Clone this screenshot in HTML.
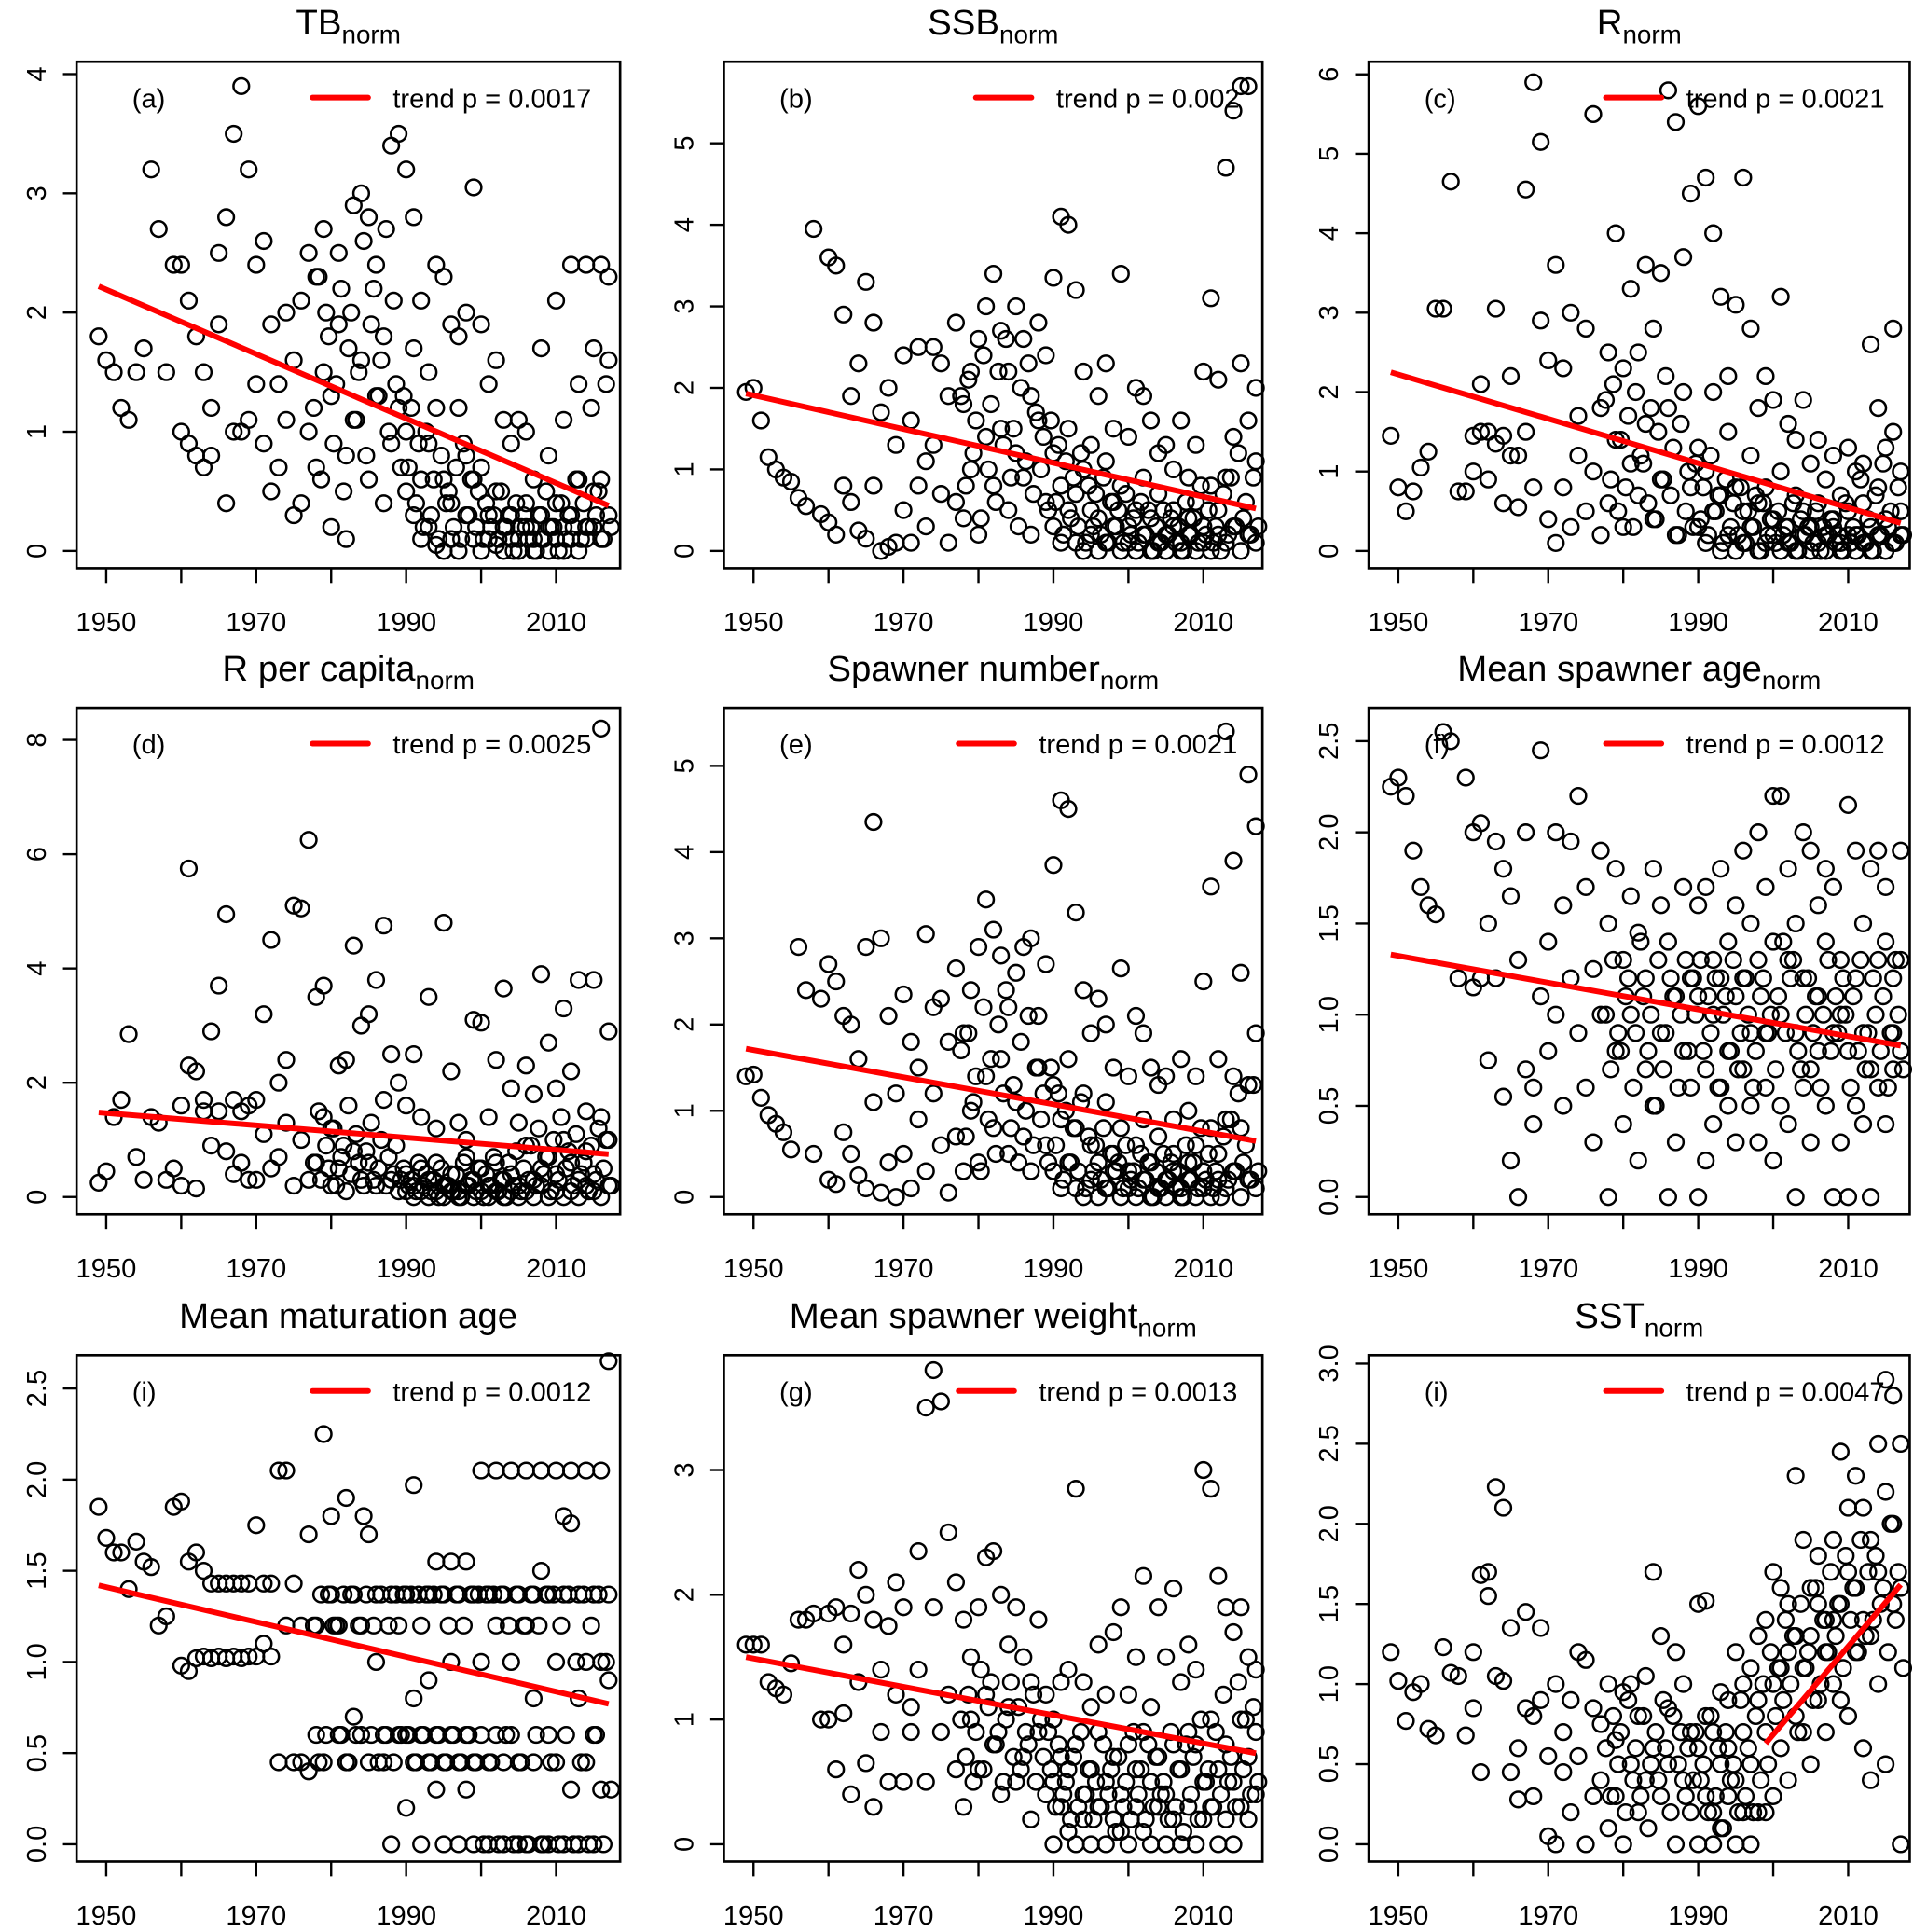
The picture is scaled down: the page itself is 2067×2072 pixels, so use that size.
<!DOCTYPE html>
<html><head><meta charset="utf-8"><style>
html,body{margin:0;padding:0;background:#fff}
svg{display:block}
text{font-family:"Liberation Sans",sans-serif;fill:#000}
</style></head><body>
<svg id="chart" xmlns="http://www.w3.org/2000/svg" width="2067" height="2072" viewBox="0 0 1560 1564" preserveAspectRatio="none"></svg>
<script>
const years=[1949,1950,1951,1952,1953,1954,1955,1956,1957,1958,1959,
1960,1960,1961,1961,1962,1962,1963,1963,1964,1964,1965,1965,1966,1966,1967,1967,1968,1968,1969,1969,
1970,1970,1971,1971,1972,1972,1973,1973,1974,1974,1975,1975,1976,1976,1977,1977,1978,1978,1979,1979,
1980,1980,1981,1981,1982,1982,1983,1983,1984,1984,1985,1985,1986,1986,1987,1987,1988,1988,1989,1989,
1990,1990,1990,1991,1991,1991,1992,1992,1992,1993,1993,1993,1994,1994,1994,1995,1995,1995,1996,1996,1996,1997,1997,1997,1998,1998,1998,1999,1999,1999,
2000,2000,2000,2001,2001,2001,2002,2002,2002,2003,2003,2003,2004,2004,2004,2005,2005,2005,2006,2006,2006,2007,2007,2007,2008,2008,2008,2009,2009,2009,
2010,2010,2010,2011,2011,2011,2012,2012,2012,2013,2013,2013,2014,2014,2014,2015,2015,2015,2016,2016,2016,2017,2017,2017];

const yearsB=[1978,1978,1979,1979,1980,1980,1981,1981,1982,1982,1983,1983,1984,1984,1985,1985,1986,1986,1987,1987,1988,1988,1989,1989,
1990,1990,1991,1991,1992,1992,1993,1993,1994,1994,1995,1995,1996,1996,1997,1997,1998,1998,1999,1999,
2000,2000,2001,2001,2002,2002,2003,2003,2004,2004,2005,2005,2006,2006,2007,2007,2008,2008,2009,2009,
2010,2010,2011,2011,2012,2012,2013,2013,2014,2014,2015,2015,2016,2016,2017,2017];

const valsTB=[1.8,1.6,1.5,1.2,1.1,1.5,1.7,3.2,2.7,1.5,2.4,
2.4,1.0,0.9,2.1,0.8,1.8,0.7,1.5,1.2,0.8,2.5,1.9,0.4,2.8,3.5,1.0,3.9,1.0,3.2,1.1,
2.4,1.4,2.6,0.9,1.9,0.5,1.4,0.7,2.0,1.1,0.3,1.6,2.1,0.4,2.5,1.0,2.3,0.7,2.7,1.5,1.3,0.2,2.5,1.9,0.8,0.1,2.9,1.1,3.0,1.6,2.8,0.6,1.3,2.4,0.4,1.8,3.4,0.9,3.5,1.2,
3.2,1.0,0.5,2.8,1.7,0.3,2.1,0.6,0.1,1.5,0.9,0.2,2.4,1.2,0.05,2.3,0.6,0.0,1.9,0.4,0.1,1.8,1.2,0.0,2.0,0.8,0.3,3.05,0.6,0.1,1.9,0.7,0.0,1.4,0.3,0.1,1.6,0.5,0.05,1.1,0.2,0.0,0.9,0.3,0.1,1.1,0.1,0.0,1.0,0.4,0.2,0.6,0.1,0.0,1.7,0.3,0.1,0.8,0.2,0.0,2.1,0.4,0.1,1.1,0.2,0.0,2.4,0.3,0.1,1.4,0.6,0.0,2.4,0.2,0.1,1.7,0.5,0.2,2.4,0.6,0.1,1.6,2.3,0.3];
const valsTB2=[1.2,2.3,0.6,2.0,1.8,0.9,1.4,2.2,0.5,1.7,2.0,1.1,1.5,2.6,0.8,1.9,2.2,1.3,1.6,2.7,1.0,2.1,1.4,0.7,
1.3,0.7,1.2,0.4,0.9,0.2,1.0,0.3,0.6,0.1,0.8,0.4,0.5,0.2,0.7,0.1,0.9,0.3,0.6,0.2,0.5,0.1,0.4,0.2,0.3,0.1,0.5,0.2,0.3,0.0,0.4,0.2,0.3,0.1,0.2,0.0,0.3,0.1,0.5,0.2,0.2,0.0,0.4,0.1,0.3,0.2,0.6,0.1,0.4,0.2,1.2,0.3,0.5,0.1,1.4,0.2];

const valsSSB=[1.95,2.0,1.6,1.15,1.0,0.9,0.85,0.65,0.55,3.95,0.45,
0.35,3.6,0.2,3.5,0.8,2.9,0.6,1.9,0.25,2.3,0.15,3.3,0.8,2.8,0.0,1.7,0.05,2.0,0.1,1.3,
2.4,0.5,1.6,0.1,2.5,0.8,1.1,0.3,2.5,1.3,0.7,2.3,1.9,0.1,2.8,0.6,1.8,0.4,2.2,1.0,2.6,0.2,3.0,1.4,3.4,0.8,2.7,1.5,2.2,0.5,3.0,1.2,2.6,0.9,1.9,0.2,2.8,1.6,2.4,0.6,
3.35,1.2,0.3,4.1,0.8,0.1,4.0,1.5,0.5,3.2,0.7,0.1,2.2,1.0,0.0,1.3,0.5,0.2,1.9,0.4,0.0,2.3,1.1,0.1,1.5,0.6,0.3,3.4,0.8,0.0,1.4,0.3,0.1,2.0,0.5,0.0,1.9,0.9,0.2,1.6,0.4,0.0,1.2,0.7,0.1,1.3,0.2,0.0,1.0,0.5,0.3,1.6,0.1,0.0,0.9,0.4,0.2,1.3,0.6,0.0,2.2,0.3,0.1,3.1,0.8,0.0,2.1,0.5,0.2,4.7,0.9,0.1,5.4,1.4,0.3,5.7,2.3,0.0,5.7,1.6,0.2,2.0,1.1,0.1];
const valsSSB2=[1.9,0.8,2.1,1.2,1.6,0.4,2.4,1.0,1.8,0.6,2.2,1.3,2.6,0.9,1.5,0.3,2.0,1.1,2.3,0.7,1.7,1.0,1.4,0.5,
1.6,0.6,1.3,0.2,1.1,0.4,0.9,0.3,1.2,0.1,0.8,0.3,0.7,0.2,0.9,0.1,0.6,0.3,0.5,0.1,0.7,0.2,0.4,0.1,0.6,0.2,0.5,0.0,0.3,0.1,0.5,0.2,0.4,0.1,0.3,0.0,0.6,0.2,0.4,0.1,0.8,0.2,0.5,0.1,0.3,0.0,0.7,0.2,0.9,0.3,1.2,0.4,0.6,0.2,0.9,0.3];

const valsR=[1.45,0.8,0.5,0.75,1.05,1.25,3.05,3.05,4.65,0.75,0.75,
1.45,1.0,1.5,2.1,1.5,0.9,3.05,1.35,1.45,0.6,1.2,2.2,0.55,1.2,4.55,1.5,5.9,0.8,5.15,2.9,
2.4,0.4,3.6,0.1,2.3,0.8,3.0,0.3,1.7,1.2,2.8,0.5,5.5,1.0,1.8,0.2,2.5,0.6,4.0,1.4,2.3,0.3,3.3,1.1,2.5,0.7,3.6,1.6,2.8,0.4,3.5,0.9,5.8,1.8,5.4,0.2,3.7,2.0,4.5,0.8,
5.6,1.3,0.3,4.7,1.0,0.1,4.0,2.0,0.5,3.2,0.7,0.0,2.2,1.5,0.2,3.1,0.8,0.0,4.7,0.5,0.1,2.8,1.2,0.3,1.8,0.6,0.0,2.2,0.8,0.1,1.9,0.4,0.2,3.2,1.0,0.0,1.6,0.3,0.1,1.4,0.7,0.0,1.9,0.5,0.2,1.1,0.3,0.0,1.4,0.6,0.1,0.9,0.2,0.0,1.2,0.4,0.3,0.7,0.1,0.0,1.3,0.5,0.2,1.0,0.2,0.0,1.1,0.6,0.1,2.6,0.3,0.0,1.8,0.8,0.2,1.3,0.4,0.0,2.8,1.5,0.1,1.0,0.5,0.2];
const valsR2=[1.9,0.9,2.1,0.5,1.4,0.8,1.7,0.3,2.0,1.2,1.1,0.6,1.8,0.4,1.5,0.9,2.2,0.7,1.3,0.2,1.6,0.5,1.0,0.3,
1.1,0.4,0.8,0.2,1.2,0.5,0.7,0.1,0.9,0.3,0.6,0.2,0.8,0.1,0.5,0.3,0.7,0.0,0.6,0.2,0.4,0.1,0.5,0.2,0.3,0.1,0.6,0.0,0.4,0.2,0.3,0.1,0.5,0.0,0.3,0.2,0.4,0.1,0.2,0.0,0.6,0.1,0.3,0.2,0.9,0.1,0.4,0.0,0.7,0.2,1.1,0.3,0.5,0.1,0.8,0.2];

const valsRpc=[0.25,0.45,1.4,1.7,2.85,0.7,0.3,1.4,1.3,0.3,0.5,
1.6,0.2,2.3,5.75,0.15,2.2,1.5,1.7,0.9,2.9,1.5,3.7,0.8,4.95,0.4,1.7,0.6,1.5,0.3,1.6,
1.7,0.3,3.2,1.1,4.5,0.5,2.0,0.7,2.4,1.3,5.1,0.2,5.05,1.0,6.25,0.3,3.5,0.6,3.7,1.4,1.2,0.2,2.3,0.5,2.4,0.1,4.4,0.8,3.0,0.3,3.2,0.6,3.8,0.2,4.75,1.7,2.5,0.3,2.0,0.1,
1.6,0.4,0.1,2.5,0.2,0.0,1.4,0.5,0.1,3.5,0.3,0.0,1.2,0.6,0.1,4.8,0.2,0.0,2.2,0.4,0.1,1.3,0.1,0.0,1.0,0.7,0.2,3.1,0.3,0.0,3.05,0.5,0.1,1.4,0.2,0.0,2.4,0.6,0.1,3.65,0.3,0.0,1.9,0.4,0.1,1.3,0.2,0.0,2.3,0.9,0.1,1.8,0.3,0.0,3.9,0.5,0.2,2.7,0.7,0.0,1.9,0.4,0.1,3.3,1.0,0.0,2.2,0.6,0.1,3.8,0.3,0.0,1.5,0.8,0.2,3.8,0.4,0.1,8.2,1.4,0.0,2.9,1.0,0.2];
const valsRpc2=[0.6,1.5,0.3,0.9,0.5,1.2,0.2,0.7,0.9,1.6,0.4,1.1,0.6,0.2,0.8,1.3,0.3,0.5,1.0,0.2,0.7,0.4,0.9,0.3,
0.5,0.2,0.3,0.1,0.6,0.2,0.4,0.1,0.3,0.0,0.5,0.2,0.2,0.1,0.4,0.0,0.6,0.2,0.3,0.1,0.5,0.0,0.4,0.2,0.7,0.1,0.3,0.0,0.6,0.2,0.8,0.1,0.5,0.3,0.9,0.2,1.2,0.4,0.7,0.1,1.0,0.3,1.4,0.5,0.8,0.2,1.1,0.4,0.6,0.1,0.9,0.3,1.2,0.5,1.0,0.2];

const valsSpN=[1.4,1.42,1.15,0.95,0.85,0.75,0.55,2.9,2.4,0.5,2.3,
0.2,2.7,0.15,2.5,0.75,2.1,0.5,2.0,0.25,1.6,0.1,2.9,1.1,4.35,0.05,3.0,0.4,2.1,0.0,1.2,
2.35,0.5,1.8,0.1,1.5,0.9,3.05,0.3,2.2,1.2,0.6,2.3,1.8,0.05,2.65,0.7,1.9,0.3,2.4,1.0,2.9,0.4,3.45,1.4,3.1,0.8,2.8,1.6,2.2,0.5,2.6,1.1,2.9,0.7,3.0,0.3,2.1,1.5,2.7,0.6,
3.85,1.3,0.3,4.6,0.9,0.1,4.5,1.6,0.4,3.3,0.8,0.1,2.4,1.2,0.0,1.9,0.6,0.2,2.3,0.4,0.0,2.0,1.1,0.1,1.5,0.5,0.3,2.65,0.8,0.0,1.4,0.3,0.1,2.1,0.6,0.0,1.9,0.9,0.2,1.5,0.4,0.0,1.3,0.7,0.1,1.4,0.2,0.0,0.9,0.5,0.3,1.6,0.1,0.0,1.0,0.4,0.2,1.4,0.6,0.0,2.5,0.3,0.1,3.6,0.8,0.0,1.6,0.5,0.2,5.4,0.9,0.1,3.9,1.4,0.3,2.6,0.8,0.0,4.9,1.3,0.2,4.3,1.9,0.1];
const valsSpN2=[1.7,0.7,1.9,1.1,1.4,0.3,2.2,0.9,1.6,0.5,2.0,1.2,2.4,0.8,1.3,0.4,1.8,1.0,2.1,0.6,1.5,0.9,1.2,0.4,
1.5,0.6,1.2,0.2,1.0,0.4,0.8,0.3,1.1,0.1,0.7,0.3,0.6,0.2,0.8,0.1,0.5,0.3,0.4,0.1,0.6,0.2,0.3,0.1,0.5,0.2,0.4,0.0,0.3,0.1,0.5,0.2,0.4,0.1,0.3,0.0,0.6,0.2,0.4,0.1,0.8,0.2,0.5,0.1,0.3,0.0,0.7,0.2,0.9,0.3,1.2,0.4,0.6,0.2,1.3,0.3];

const valsAge=[2.25,2.3,2.2,1.9,1.7,1.6,1.55,2.55,2.5,1.2,2.3,
1.15,2.0,1.2,2.05,1.5,0.75,1.2,1.95,0.55,1.8,0.2,1.65,0.0,1.3,0.7,2.0,0.4,0.6,2.45,1.1,
1.4,0.8,2.0,1.0,1.6,0.5,1.95,1.2,2.2,0.9,1.7,0.6,1.25,0.3,1.9,1.0,1.5,0.0,1.8,0.8,1.3,0.4,1.65,1.0,1.45,0.2,1.2,0.7,1.8,0.5,1.6,0.9,1.4,0.0,1.1,0.3,1.7,0.8,1.2,0.6,
0.0,1.1,1.6,0.2,0.7,1.7,0.4,1.0,1.3,0.6,1.8,1.2,0.8,1.4,0.5,1.1,0.3,1.6,1.2,0.7,1.9,0.9,0.5,1.5,2.0,1.3,0.3,1.7,0.9,0.6,2.2,1.4,0.2,2.2,1.0,0.5,1.8,1.3,0.4,1.5,0.0,0.9,2.0,1.2,0.6,1.9,0.7,0.3,1.6,1.1,0.8,1.4,0.5,1.8,1.7,0.9,0.0,1.3,0.3,1.0,2.15,0.8,0.0,1.9,1.2,0.5,1.5,0.4,0.9,1.8,0.7,0.0,1.9,1.3,0.6,1.4,1.7,0.4,1.2,0.9,0.7,1.9,1.3,0.8];
const valsAge2=[1.0,0.7,1.3,0.9,0.8,1.1,1.2,0.6,0.9,1.4,1.1,0.8,1.0,0.5,1.3,0.7,0.9,1.2,1.1,0.6,1.0,1.3,0.8,1.2,
1.0,1.3,0.8,1.1,0.9,1.2,0.6,1.0,1.1,0.8,1.3,0.7,0.9,1.2,1.0,0.6,0.8,1.1,1.2,0.9,1.0,0.7,1.1,1.4,0.9,1.2,1.3,0.8,0.7,1.0,1.2,0.9,1.1,0.6,1.0,1.3,0.8,1.1,0.9,1.2,1.0,0.6,1.1,0.8,1.3,0.7,0.9,1.2,1.0,0.8,1.1,0.6,0.9,1.3,1.0,0.7];

const valsMat=[1.85,1.68,1.6,1.6,1.4,1.66,1.55,1.52,1.2,1.25,1.85,
0.98,1.88,0.95,1.55,1.02,1.6,1.03,1.5,1.43,1.02,1.43,1.03,1.43,1.02,1.43,1.03,1.43,1.02,1.43,1.03,
1.75,1.03,1.43,1.1,1.43,1.03,2.05,0.45,2.05,1.2,0.45,1.43,1.2,0.45,0.4,1.7,1.2,0.6,2.25,0.45,1.8,1.37,0.6,1.2,1.9,0.45,0.7,1.37,1.2,0.6,1.7,0.45,1.37,1.0,0.6,0.45,1.37,0.0,0.6,1.2,
1.37,0.6,0.2,1.97,0.45,0.8,1.2,0.6,0.0,1.37,0.45,0.9,1.55,0.6,0.3,1.37,0.45,0.0,1.55,0.6,1.0,1.37,0.0,0.45,1.55,0.3,0.6,1.37,0.45,0.0,2.05,0.6,1.0,1.37,0.45,0.0,2.05,1.2,0.6,1.37,0.45,0.0,2.05,1.0,0.6,1.37,0.0,0.45,2.05,1.2,0.0,1.37,0.45,0.8,2.05,1.5,0.0,1.37,0.6,0.0,2.05,1.0,0.45,1.8,0.0,1.37,2.05,1.76,0.3,1.37,0.8,0.0,2.05,1.0,0.45,1.37,0.6,0.0,2.05,1.0,0.3,2.65,1.37,0.9];
const valsMat2=[1.2,0.45,1.37,0.6,1.37,1.2,1.2,0.6,1.37,0.45,1.37,0.6,1.2,1.8,1.37,0.6,1.2,0.45,1.37,0.6,1.2,0.45,1.37,0.6,
1.37,0.6,1.37,0.45,1.37,0.6,1.37,0.45,1.37,0.6,1.37,0.45,1.2,0.6,1.37,0.45,1.2,0.6,1.37,0.45,1.37,0.0,1.37,0.45,1.37,0.0,1.37,0.6,1.2,0.0,1.37,0.45,1.2,0.0,1.37,0.6,1.2,0.0,1.37,0.45,1.37,0.0,1.2,0.6,1.37,0.0,1.0,0.45,1.37,0.0,1.2,0.6,1.37,0.0,1.0,0.3];

const valsWt=[1.6,1.6,1.6,1.3,1.25,1.2,1.45,1.8,1.8,1.85,1.0,
1.85,1.0,1.9,0.6,1.6,1.05,1.85,0.4,2.2,1.3,0.65,2.0,0.3,1.8,1.4,0.9,1.75,0.5,2.1,1.2,
1.9,0.5,1.1,0.9,2.35,1.4,3.5,0.5,3.8,1.9,3.55,0.9,2.5,1.2,2.1,0.6,1.8,0.3,1.5,1.0,1.9,0.6,2.3,1.2,2.35,0.8,2.0,0.4,1.6,1.1,1.9,0.5,1.5,0.7,1.3,0.2,1.8,0.9,1.2,0.4,
1.0,0.5,0.0,1.3,0.7,0.3,1.4,0.6,0.1,2.85,0.8,0.0,1.3,0.4,0.2,1.1,0.6,0.0,1.6,0.9,0.3,1.2,0.5,0.0,1.7,0.7,0.2,1.9,0.4,0.1,1.2,0.8,0.0,1.5,0.3,0.6,2.15,0.9,0.1,1.1,0.5,0.0,1.9,0.7,0.3,1.5,0.4,0.0,2.05,0.8,0.2,1.3,0.6,0.0,1.6,0.3,0.9,1.4,0.8,0.0,3.0,0.5,0.2,2.85,1.0,0.3,2.15,0.6,0.0,1.9,0.8,0.2,1.7,0.5,0.0,1.9,1.0,0.3,1.5,0.7,0.2,1.4,0.9,0.4];
const valsWt2=[1.0,0.7,1.2,0.5,0.9,1.4,0.6,1.1,1.3,0.8,0.9,0.5,1.0,1.3,0.7,1.1,0.6,0.9,0.8,1.2,0.5,1.0,0.7,0.9,
0.6,0.3,0.8,0.4,0.5,0.2,0.7,0.3,0.9,0.4,0.6,0.2,0.5,0.3,0.8,0.4,0.6,0.1,0.7,0.3,0.5,0.2,0.9,0.4,0.6,0.2,0.8,0.3,0.7,0.4,0.5,0.2,0.9,0.3,0.6,0.1,0.8,0.4,0.7,0.2,1.0,0.5,0.6,0.3,0.9,0.4,1.2,0.5,0.7,0.3,1.3,0.6,1.0,0.4,1.1,0.5];

const valsSST=[1.2,1.02,0.77,0.95,1.0,0.72,0.68,1.23,1.07,1.05,0.68,
1.2,0.85,1.68,0.45,1.55,1.7,2.23,1.05,2.1,1.02,0.45,1.35,0.28,0.6,0.85,1.45,0.3,0.8,0.9,1.35,
0.55,0.05,1.0,0.0,0.7,0.45,0.9,0.2,1.2,0.55,1.15,0.0,0.85,0.3,0.75,0.4,1.0,0.1,0.65,0.3,0.95,0.0,1.0,0.5,0.8,0.2,1.05,0.4,1.7,0.6,1.3,0.3,0.85,0.5,1.2,0.0,1.0,0.4,0.7,0.2,
1.5,0.6,0.0,1.52,0.8,0.3,0.7,0.2,0.0,0.95,0.5,0.1,0.9,0.6,0.3,1.2,0.4,0.0,1.0,0.7,0.2,1.1,0.5,0.0,1.3,0.9,0.2,1.4,0.7,0.2,1.7,1.0,0.3,1.6,1.1,0.6,1.5,1.2,0.4,2.3,1.3,0.8,1.9,1.1,0.7,1.6,1.3,0.5,1.8,1.5,0.9,1.4,1.2,0.7,1.9,1.4,1.0,2.45,1.5,0.9,2.1,1.7,0.8,2.3,1.6,1.2,2.1,1.4,0.6,1.9,1.3,0.4,2.5,1.7,1.0,2.9,2.2,0.5,2.8,2.0,1.5,2.5,1.6,0.0];
const valsSST2=[0.6,0.3,0.8,0.5,0.7,0.2,0.9,0.4,0.6,0.3,0.8,0.1,0.5,0.7,0.4,0.9,0.6,0.2,0.8,0.5,0.7,0.3,0.6,0.4,
0.7,0.4,0.5,0.2,0.8,0.3,0.6,0.1,0.7,0.4,0.5,0.2,0.9,0.3,0.6,0.2,0.8,0.4,1.0,0.5,1.2,0.8,1.1,0.9,1.4,1.0,1.3,0.7,1.5,1.1,1.2,0.9,1.6,1.0,1.4,1.2,1.7,1.3,1.5,1.1,1.8,1.4,1.6,1.2,1.9,1.3,1.7,1.4,1.8,1.5,1.6,1.2,2.0,1.4,1.7,1.1];

const trendYears=[[1949,2017],[1949,2017],[1949,2017],[1949,2017],[1949,2017],[1949,2017],[1949,2017],[1949,2017],[1999,2017]];
const trendVals=[[2.22,0.38],[1.93,0.52],[2.25,0.35],[1.48,0.75],[1.72,0.65],[1.33,0.83],[1.42,0.77],[1.5,0.73],[0.63,1.62]];
const xTicks=[1950,1960,1970,1980,1990,2000,2010];
const xLabels=[1950,1970,1990,2010];

const NS="http://www.w3.org/2000/svg";
const svg=document.getElementById('chart');
function mk(tag,attrs,parent){const e=document.createElementNS(NS,tag);for(const k in attrs)e.setAttribute(k,attrs[k]);(parent||svg).appendChild(e);return e;}

const panels=[
 {id:'tb',title:'TB',sub:'norm',lab:'(a)',p:'trend p = 0.0017',col:0,row:0,vals:valsTB,vals2:valsTB2,y0:446,ppu:96.5,ticks:[0,1,2,3,4],dec:0,lx:253},
 {id:'ssb',title:'SSB',sub:'norm',lab:'(b)',p:'trend p = 0.002',col:1,row:0,vals:valsSSB,vals2:valsSSB2,y0:446,ppu:66,ticks:[0,1,2,3,4,5],dec:0,lx:790},
 {id:'r',title:'R',sub:'norm',lab:'(c)',p:'trend p = 0.0021',col:2,row:0,vals:valsR,vals2:valsR2,y0:446,ppu:64.3,ticks:[0,1,2,3,4,5,6],dec:0,lx:1300},
 {id:'rpc',title:'R per capita',sub:'norm',lab:'(d)',p:'trend p = 0.0025',col:0,row:1,vals:valsRpc,vals2:valsRpc2,y0:969,ppu:46.25,ticks:[0,2,4,6,8],dec:0,lx:253},
 {id:'spn',title:'Spawner number',sub:'norm',lab:'(e)',p:'trend p = 0.0021',col:1,row:1,vals:valsSpN,vals2:valsSpN2,y0:969,ppu:69.8,ticks:[0,1,2,3,4,5],dec:0,lx:776},
 {id:'age',title:'Mean spawner age',sub:'norm',lab:'(f)',p:'trend p = 0.0012',col:2,row:1,vals:valsAge,vals2:valsAge2,y0:969,ppu:147.6,ticks:[0,0.5,1,1.5,2,2.5],dec:1,lx:1300},
 {id:'mat',title:'Mean maturation age',sub:'',lab:'(i)',p:'trend p = 0.0012',col:0,row:2,vals:valsMat,vals2:valsMat2,y0:1493,ppu:147.6,ticks:[0,0.5,1,1.5,2,2.5],dec:1,lx:253},
 {id:'wt',title:'Mean spawner weight',sub:'norm',lab:'(g)',p:'trend p = 0.0013',col:1,row:2,vals:valsWt,vals2:valsWt2,y0:1493,ppu:101,ticks:[0,1,2,3],dec:0,lx:776},
 {id:'sst',title:'SST',sub:'norm',lab:'(i)',p:'trend p = 0.0047',col:2,row:2,vals:valsSST,vals2:valsSST2,y0:1493,ppu:129.7,ticks:[0,0.5,1,1.5,2,2.5,3],dec:1,lx:1300}
];
const colX=[62,586,1108], colW=[440,436,438];
const rowY=[50,573,1097], boxH=410;

panels.forEach((pn,pi)=>{
  const bx=colX[pn.col], bw=colW[pn.col], by=rowY[pn.row];
  const g=mk('g',{});
  
  
  const xs=y=>bx+24+(y-1950)*6.07;
  const ys=v=>pn.y0-v*pn.ppu;
  const t=mk('text',{x:bx+bw/2,y:by-22,'text-anchor':'middle','font-size':29},g);
  
  
  t.textContent=pn.title;
  if(pn.sub){const ts=mk('tspan',{'font-size':21,dy:7},t);ts.textContent=pn.sub;}
  const pg=mk('g',{fill:'none',stroke:'#000','stroke-width':1.9},g);
  
  
  const n=Math.min(years.length,pn.vals.length);
  for(let i=0;i<n;i++){
    const c=mk('circle',{cx:xs(years[i]).toFixed(1),cy:ys(pn.vals[i]).toFixed(1),r:6.3},pg);
    
    
  }
  const n2=Math.min(yearsB.length,pn.vals2.length);
  for(let i=0;i<n2;i++){
    const c=mk('circle',{cx:(xs(yearsB[i])+(i%2?2:-2)).toFixed(1),cy:ys(pn.vals2[i]).toFixed(1),r:6.3},pg);
    
    
  }
  const ty=trendYears[pi], tv=trendVals[pi];
  const tl=mk('line',{x1:xs(ty[0]),y1:ys(tv[0]),x2:xs(ty[1]),y2:ys(tv[1]),stroke:'#ff0000','stroke-width':4.5},g);
  
  
  const b=mk('rect',{x:bx,y:by,width:bw,height:boxH,fill:'none',stroke:'#000','stroke-width':2},g);
  
  
  const lg=mk('g',{},g);
  
  
  mk('line',{x1:pn.lx,y1:by+29,x2:pn.lx+45,y2:by+29,stroke:'#ff0000','stroke-width':4.5,'stroke-linecap':'round'},lg);
  const lt=mk('text',{x:pn.lx+65,y:by+37,'font-size':22},lg);
  
  
  lt.textContent=pn.p;
  const pl=mk('text',{x:bx+45,y:by+37,'font-size':22},g);
  
  
  pl.textContent=pn.lab;
  const xa=mk('g',{},g);
  
  
  xTicks.forEach(yr=>{mk('line',{x1:xs(yr),y1:by+boxH,x2:xs(yr),y2:by+boxH+12,stroke:'#000','stroke-width':1.8},xa);});
  xLabels.forEach(yr=>{const tx=mk('text',{x:xs(yr),y:by+boxH+51,'text-anchor':'middle','font-size':22},xa);tx.textContent=yr;});
  const ya=mk('g',{},g);
  
  
  pn.ticks.forEach(v=>{
    const yy=ys(v);
    mk('line',{x1:bx-11,y1:yy,x2:bx,y2:yy,stroke:'#000','stroke-width':1.8},ya);
    const tx=mk('text',{x:0,y:0,'text-anchor':'middle','font-size':22,transform:`translate(${bx-25},${yy}) rotate(-90)`},ya);
    tx.textContent=v.toFixed(pn.dec);
  });
});
</script>
</body></html>
